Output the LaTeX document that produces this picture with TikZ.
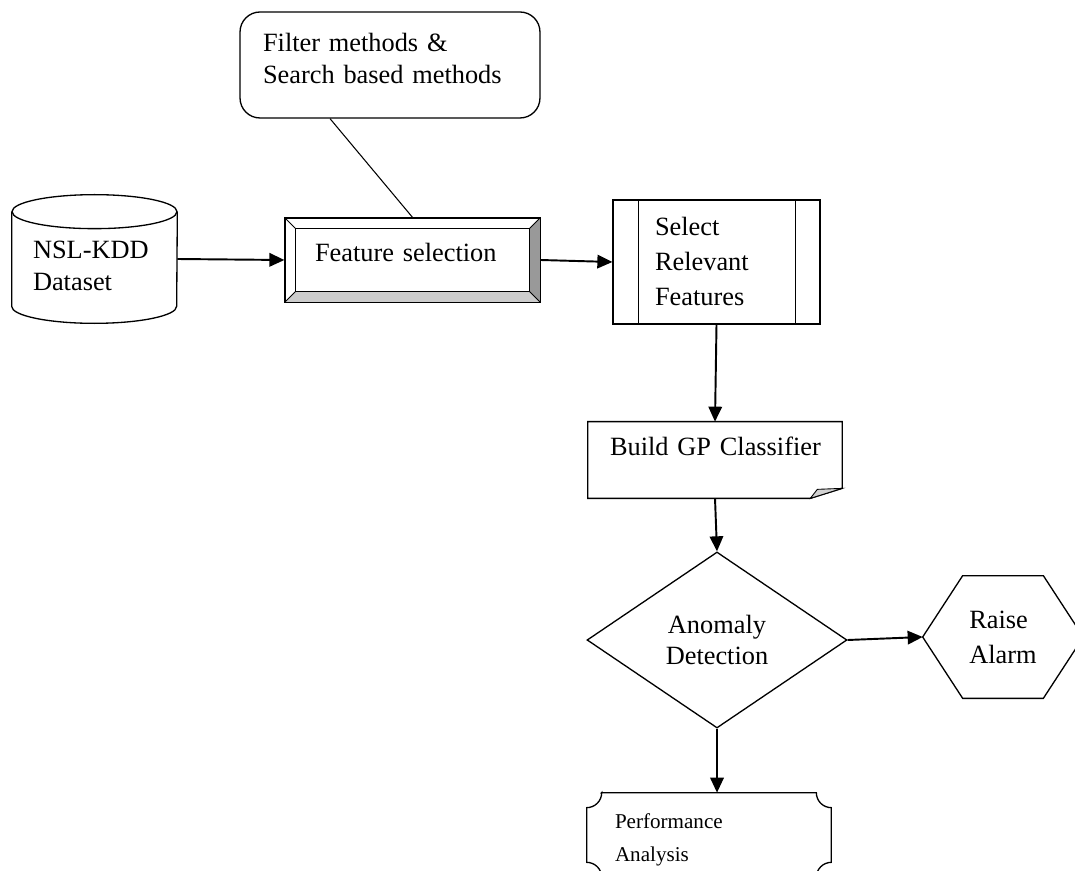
\documentclass[tikz,border=0pt]{standalone}
\usepackage{fontspec}
\setmainfont{Liberation Serif}
\usetikzlibrary{positioning,shapes.geometric,arrows.meta}

\begin{document}
\begin{tikzpicture}[x=0.02cm, y=0.02cm,
		shapeline/.style={draw, line width=0.75pt},
		flow/.style={line width=1.1pt, -{Triangle[length=0.3cm,width=0.27cm]}},
		txt/.style={font=\fontsize{15}{18}\selectfont, align=left},
		txtwide/.style={font=\fontsize{15}{20}\selectfont, align=left}]
			\useasboundingbox (0,0) rectangle (1075,870);
			\clip (0,0) rectangle (1075,870);
			\node [txt, shapeline, rounded corners=0.4cm, text width=5.08cm, inner xsep=0.46cm, inner ysep=0pt, text height=0.8cm, text depth=1.32cm] (filt) at (390,805) {Filter methods \&\\Search based methods};
			\node [txt, text width=2.46cm, inner xsep=0.42cm, inner ysep=0pt, text height=1.28cm, text depth=1.28cm] (data) at (94.5,611) {NSL-KDD\\Dataset};
			\draw [shapeline] ([yshift=-0.34cm]data.north) ellipse [x radius=82.5, y radius=17];
			\draw [shapeline] ([yshift=-0.34cm]data.north west) -- ([yshift=0.34cm]data.south west) arc [start angle=180, end angle=360, x radius=82.5, y radius=17] -- ([yshift=-0.34cm]data.north east);
			\node [txt, shapeline, text width=3.9cm, inner xsep=0.6cm, inner ysep=0pt, text height=0.88cm, text depth=0.8cm] (fs) at (412.5,610) {Feature selection};
			\fill [gray!80] (fs.north east) -- (fs.south east) -- ([shift={(-0.22cm,0.22cm)}]fs.south east) -- ([shift={(-0.22cm,-0.22cm)}]fs.north east) -- cycle;
			\fill [gray!40] (fs.south west) -- (fs.south east) -- ([shift={(-0.22cm,0.22cm)}]fs.south east) -- ([shift={(0.22cm,0.22cm)}]fs.south west) -- cycle;
			\draw [line width=0.5pt] ([shift={(0.22cm,-0.22cm)}]fs.north west) rectangle ([shift={(-0.22cm,0.22cm)}]fs.south east);
			\draw [line width=0.5pt] (fs.north west) -- ([shift={(0.22cm,-0.22cm)}]fs.north west) (fs.north east) -- ([shift={(-0.22cm,-0.22cm)}]fs.north east) (fs.south west) -- ([shift={(0.22cm,0.22cm)}]fs.south west) (fs.south east) -- ([shift={(-0.22cm,0.22cm)}]fs.south east);
			\draw [shapeline] (fs.north west) rectangle (fs.south east);
			\node [txtwide, shapeline, text width=2.46cm, inner xsep=0.84cm, inner ysep=0pt, text height=0.7cm, text depth=1.78cm] (sel) at (716.5,608) {Select\\Relevant\\Features};
			\draw [shapeline] ([xshift=0.52cm]sel.north west) -- ([xshift=0.52cm]sel.south west) ([xshift=-0.5cm]sel.north east) -- ([xshift=-0.5cm]sel.south east);
			\node [txt, text width=4.2cm, inner xsep=0.44cm, inner ysep=0.3cm, text height=0.36cm, text depth=0.56cm] (gp) at (715,410) {\mbox{Build GP Classifier}};
			\draw [shapeline] (gp.north west) -- (gp.north east) -- ([yshift=0.2cm]gp.south east) -- ([xshift=-0.64cm]gp.south east) -- (gp.south west) -- cycle;
			\filldraw [fill=gray!35, line width=0.5pt] ([xshift=-0.64cm]gp.south east) -- ([shift={(-0.5cm,0.18cm)}]gp.south east) -- ([yshift=0.2cm]gp.south east) -- cycle;
			\node [txt, shapeline, diamond, align=center, minimum width=5.2cm, minimum height=3.24cm] (anom) at (717,230) {Anomaly\\Detection};
			\node [txtwide, minimum width=3.2cm, minimum height=2.44cm] (alarm) at (1003,233) {Raise\\Alarm};
			\draw [shapeline] (alarm.west) -- ([xshift=0.8cm]alarm.north west) -- ([xshift=-0.8cm]alarm.north east) -- (alarm.east) -- ([xshift=-0.8cm]alarm.south east) -- ([xshift=0.8cm]alarm.south west) -- cycle;
			\node [font=\fontsize{12}{19}\selectfont, align=left, text width=3.76cm, inner xsep=0.56cm, inner ysep=0pt, text height=0.7cm, text depth=0.98cm] (perf) at (709,35) {Performance\\Analysis};
			\draw [shapeline] ([xshift=0.3cm]perf.north west) -- ([xshift=-0.3cm]perf.north east) arc [start angle=180, end angle=270, radius=15] -- ([yshift=0.3cm]perf.south east) arc [start angle=90, end angle=180, radius=15] -- ([xshift=0.3cm]perf.south west) arc [start angle=0, end angle=90, radius=15] -- ([yshift=-0.3cm]perf.north west) arc [start angle=270, end angle=360, radius=15] -- cycle;
			\draw [line width=0.6pt] ([xshift=-1.2cm]filt.south) -- (fs.north);
			\draw [flow] (data.east) -- (fs.west);
			\draw [flow] (fs.east) -- (sel.west);
			\draw [flow] (sel.south) -- (gp.north);
			\draw [flow] (gp.south) -- (anom.north);
			\draw [flow] (anom.east) -- (alarm.west);
			\draw [flow] (anom.south) -- (anom.south |- perf.north);
		\end{tikzpicture}
\end{document}
